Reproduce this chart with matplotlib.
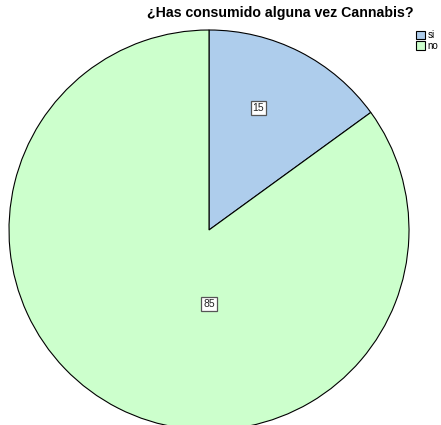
import matplotlib.pyplot as plt
import numpy as np

labels = ["si", "no"]
values = [15, 85]
colors = ["#AECDEC", "#CCFFCC"]

fig = plt.figure(figsize=(4.41, 4.25), dpi=100)
# pie centre ~ (209, 230) px, radius ~200 px
ax = fig.add_axes([9 / 441, -5 / 425, 400 / 441, 400 / 425])
wedges, _ = ax.pie(values, colors=colors, startangle=90, counterclock=False,
                   radius=1.0, wedgeprops=dict(edgecolor="black", linewidth=0.8))
ax.set_xlim(-1, 1)
ax.set_ylim(-1, 1)
ax.set_aspect("equal")
ax.axis("off")

# value labels
box = dict(boxstyle="square,pad=0.2", facecolor="white", edgecolor="#555555", linewidth=0.9)
w = wedges[0]
mid = np.deg2rad((w.theta1 + w.theta2) / 2 + 5)
ax.text(0.66 * np.cos(mid), 0.66 * np.sin(mid), str(values[0]), ha="center", va="center",
        fontsize=7.5, bbox=box, family="Liberation Sans", color="#222222")
ax.text(0.0, -0.37, str(values[1]), ha="center", va="center",
        fontsize=7.5, bbox=box, family="Liberation Sans", color="#222222")

fig.text(280 / 441, 1 - 13 / 425, "¿Has consumido alguna vez Cannabis?", ha="center", va="center",
         fontsize=10.2, fontweight="bold", family="Liberation Sans")

fig.legend(wedges, labels, loc="upper right", bbox_to_anchor=(1.0, 1 - 27 / 425),
           frameon=False, handlelength=0.9, handleheight=0.9,
           handletextpad=0.25, labelspacing=0.1, borderpad=0.2, borderaxespad=0.1,
           prop={"family": "Liberation Sans", "size": 7})

fig.savefig("out.png", dpi=100)
